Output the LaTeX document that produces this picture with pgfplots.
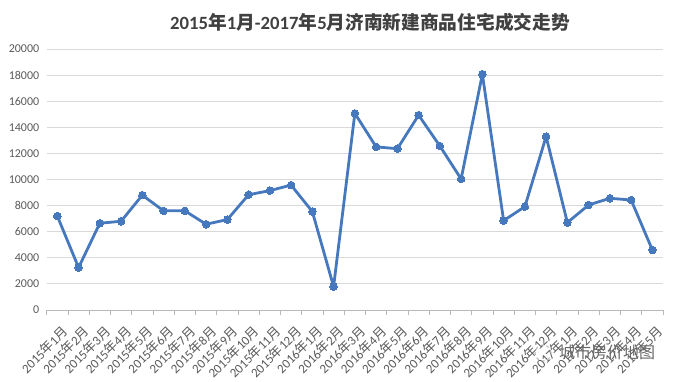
\documentclass[border=0pt]{standalone}
\usepackage{fontspec}
\setmainfont{Carlito}
\newfontfamily\cjk{Noto Sans CJK SC}
\usepackage{pgfplots}
\pgfplotsset{compat=1.18}
\definecolor{lineblue}{RGB}{70,120,190}
\definecolor{gridgray}{RGB}{217,217,217}
\definecolor{txtgray}{RGB}{89,89,89}
\definecolor{titlegray}{RGB}{64,64,64}
\newcommand{\ym}[2]{#1{\cjk 年}#2{\cjk 月}}
\begin{document}
\begin{tikzpicture}
\useasboundingbox (-46.7pt,-72pt) rectangle (629.3pt,310pt);
\begin{axis}[
  at={(10.627pt,0pt)}, anchor=origin,
  scale only axis, width=616.3pt, height=261pt,
  xmin=-0.5, xmax=28.5, ymin=0, ymax=20000,
  axis x line*=bottom, axis y line*=left,
  x axis line style={draw=gray!55, line width=0.8pt},
  y axis line style={draw=none},
  xtick={0,...,28},
  major x tick style={draw=none},
  minor xtick={-0.5,0.5,...,28.5},
  minor x tick style={draw=gray!55, line width=0.8pt},
  minor tick length=5pt,
  xtick align=outside,
  xticklabels={\ym{2015}{1},\ym{2015}{2},\ym{2015}{3},\ym{2015}{4},\ym{2015}{5},\ym{2015}{6},\ym{2015}{7},\ym{2015}{8},\ym{2015}{9},\ym{2015}{10},\ym{2015}{11},\ym{2015}{12},\ym{2016}{1},\ym{2016}{2},\ym{2016}{3},\ym{2016}{4},\ym{2016}{5},\ym{2016}{6},\ym{2016}{7},\ym{2016}{8},\ym{2016}{9},\ym{2016}{10},\ym{2016}{11},\ym{2016}{12},\ym{2017}{1},\ym{2017}{2},\ym{2017}{3},\ym{2017}{4},\ym{2017}{5}},
  xticklabel style={rotate=45, anchor=north east, font=\fontsize{13}{15}\selectfont, text=txtgray, inner sep=1pt, xshift=-3.5pt, yshift=-8.7pt},
  ytick={0,2000,...,20000},
  scaled y ticks=false,
  ymajorgrids, grid style={draw=gridgray, line width=0.8pt},
  major y tick style={draw=none},
  yticklabel style={font=\fontsize{12}{14}\selectfont, text=txtgray, xshift=-4pt},
  /pgf/number format/set thousands separator={},
  /pgf/number format/assume math mode=true,
  clip=false,
]
\addplot[color=lineblue, line width=2.8pt, line join=round, mark=*, mark size=3.8pt, mark options={fill=lineblue, draw=lineblue, line width=0pt}] coordinates {
(0,7200) (1,3250) (2,6650) (3,6800) (4,8800) (5,7600) (6,7600) (7,6570) (8,6930) (9,8830)
(10,9150) (11,9570) (12,7540) (13,1790) (14,15070) (15,12500) (16,12360) (17,14930) (18,12570) (19,10040)
(20,18070) (21,6850) (22,7920) (23,13290) (24,6700) (25,8050) (26,8560) (27,8430) (28,4600)
};
\end{axis}
\node[font=\fontsize{18.7}{22}\selectfont\bfseries, text=titlegray] at (323.3pt,288pt) {2015{\cjk\bfseries 年}1{\cjk\bfseries 月}-2017{\cjk\bfseries 年}5{\cjk\bfseries 月济南新建商品住宅成交走势}};
\draw[gray!60, line width=1pt, dashed] (496.3pt,-43pt) circle (8pt);
\node[font=\cjk\fontsize{16}{18}\selectfont, text=gray!80!black] at (560.3pt,-42pt) {城市房价地图};
\end{tikzpicture}
\end{document}
